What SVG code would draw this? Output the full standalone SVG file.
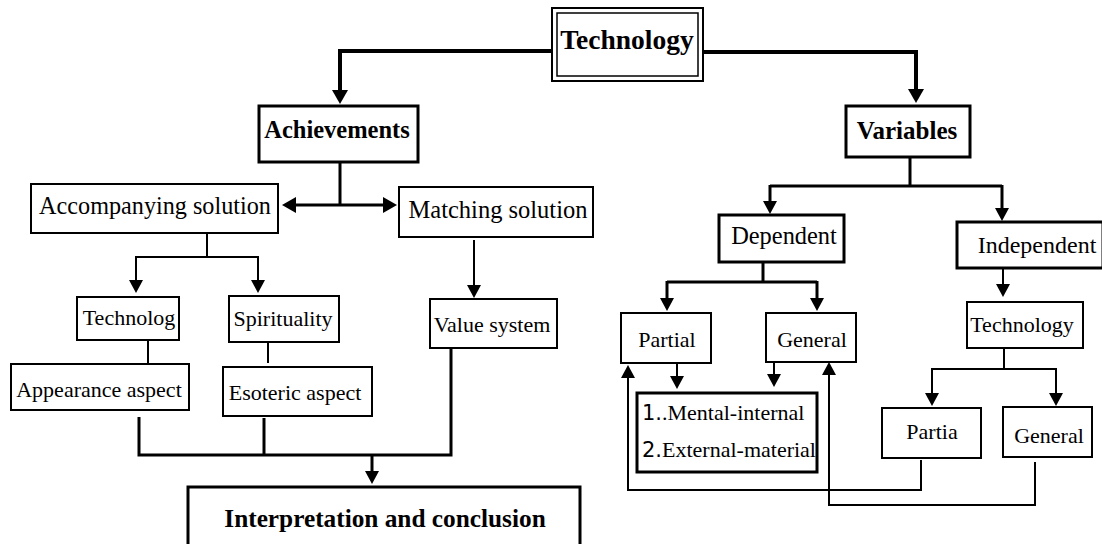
<svg xmlns="http://www.w3.org/2000/svg" width="1102" height="544" viewBox="0 0 1102 544">
  <style>
    .box { fill: #fff; stroke: #000; stroke-width: 2; }
    .boxb { fill: #fff; stroke: #000; stroke-width: 3; }
    .t { font-family: "Liberation Serif", "Times New Roman", serif; font-size: 22px; fill: #000; text-anchor: middle; }
    .tb { font-family: "Liberation Serif", "Times New Roman", serif; font-size: 24px; font-weight: bold; fill: #000; text-anchor: middle; }
    .num { font-family: "DejaVu Sans", "Liberation Sans", sans-serif; font-size: 21px; }
    .c4 { fill: none; stroke: #000; stroke-width: 4; }
    .c3 { fill: none; stroke: #000; stroke-width: 3; }
    .c2 { fill: none; stroke: #000; stroke-width: 2; }
  </style>
  <defs>
    <marker id="big" markerUnits="userSpaceOnUse" markerWidth="16" markerHeight="16" refX="0" refY="8" orient="auto" overflow="visible">
      <path d="M0,0 L14,8 L0,16 Z" fill="#000"/>
    </marker>
    <marker id="mid" markerUnits="userSpaceOnUse" markerWidth="14" markerHeight="16" refX="0" refY="8" orient="auto-start-reverse" overflow="visible">
      <path d="M0,0 L14,8 L0,16 Z" fill="#000"/>
    </marker>
    <marker id="sm" markerUnits="userSpaceOnUse" markerWidth="13" markerHeight="14" refX="0" refY="7" orient="auto" overflow="visible">
      <path d="M0,0 L13,7 L0,14 Z" fill="#000"/>
    </marker>
  </defs>

  <!-- connectors -->
  <g id="connectors">
    <!-- root to the two main branches -->
    <path class="c4" d="M552,51 H340 V90" marker-end="url(#big)"/>
    <path class="c4" d="M704,52 H916 V89" marker-end="url(#big)"/>

    <!-- Achievements to the two solutions -->
    <path class="c3" d="M340,162 V205"/>
    <path class="c3" d="M296,205 H383" marker-start="url(#mid)" marker-end="url(#mid)"/>

    <!-- Accompanying solution split -->
    <path class="c2" d="M207,233 V257"/>
    <path class="c2" d="M136,257 H258"/>
    <path class="c2" d="M136,256 V280" marker-end="url(#sm)"/>
    <path class="c2" d="M258,256 V280" marker-end="url(#sm)"/>

    <!-- Matching solution to Value system -->
    <path class="c2" d="M474,240 V285" marker-end="url(#sm)"/>

    <!-- plain links to aspects -->
    <path class="c2" d="M148,340 V364"/>
    <path class="c2" d="M268,342 V363"/>

    <!-- merge into the conclusion -->
    <path class="c3" d="M139,417 V455 H451 V348"/>
    <path class="c3" d="M264,418 V455"/>
    <path class="c3" d="M372,455 V471" marker-end="url(#sm)"/>

    <!-- Variables split -->
    <path class="c3" d="M910,157 V186"/>
    <path class="c3" d="M770,186 H1002"/>
    <path class="c3" d="M770,185 V201" marker-end="url(#sm)"/>
    <path class="c3" d="M1002,185 V208" marker-end="url(#sm)"/>

    <!-- Dependent split -->
    <path class="c3" d="M763,262 V282"/>
    <path class="c3" d="M667,282 H817"/>
    <path class="c3" d="M667,281 V298" marker-end="url(#sm)"/>
    <path class="c3" d="M817,281 V298" marker-end="url(#sm)"/>

    <!-- Partial / General to the list -->
    <path class="c2" d="M677,363 V376" marker-end="url(#sm)"/>
    <path class="c2" d="M774,362 V374" marker-end="url(#sm)"/>

    <!-- Independent to Technology -->
    <path class="c2" d="M1003,268 V284" marker-end="url(#sm)"/>

    <!-- Technology split -->
    <path class="c2" d="M1004,348 V369"/>
    <path class="c2" d="M932,369 H1056"/>
    <path class="c2" d="M932,368 V393" marker-end="url(#sm)"/>
    <path class="c2" d="M1056,368 V393" marker-end="url(#sm)"/>

    <!-- feedback loops -->
    <path class="c2" d="M921,460 V490 H628 V378" marker-end="url(#sm)"/>
    <path class="c2" d="M1035,462 V505 H829 V375" marker-end="url(#sm)"/>
  </g>

  <!-- nodes -->
  <g id="n-technology">
    <rect x="552" y="8" width="151" height="73" fill="#fff" stroke="#000" stroke-width="2"/>
    <rect x="557" y="13" width="141" height="63" fill="none" stroke="#000" stroke-width="1.5"/>
    <text class="tb" x="627" y="49" style="font-size:27.5px">Technology</text>
  </g>

  <g id="n-achievements">
    <rect class="boxb" x="259" y="106" width="159" height="56"/>
    <text class="tb" x="337" y="138" style="font-size:24.5px">Achievements</text>
  </g>

  <g id="n-variables">
    <rect class="boxb" x="846" y="106" width="124" height="51"/>
    <text class="tb" x="907" y="139" style="font-size:25px">Variables</text>
  </g>

  <g id="n-accompanying">
    <rect class="box" x="31" y="184" width="247" height="49"/>
    <text class="t" x="155" y="214" style="font-size:24.2px">Accompanying solution</text>
  </g>

  <g id="n-matching">
    <rect class="box" x="399" y="187" width="194" height="50"/>
    <text class="t" x="498" y="218" style="font-size:24.5px">Matching solution</text>
  </g>

  <g id="n-technolog">
    <rect class="box" x="77" y="297" width="102" height="43"/>
    <text class="t" x="129" y="325">Technolog</text>
  </g>

  <g id="n-spirituality">
    <rect class="box" x="229" y="296" width="110" height="46"/>
    <text class="t" x="283" y="326">Spirituality</text>
  </g>

  <g id="n-value">
    <rect class="box" x="430" y="299" width="127" height="49"/>
    <text class="t" x="492" y="332">Value system</text>
  </g>

  <g id="n-appearance">
    <rect class="box" x="11" y="364" width="178" height="46"/>
    <text class="t" x="99" y="397">Appearance aspect</text>
  </g>

  <g id="n-esoteric">
    <rect class="box" x="223" y="367" width="149" height="49"/>
    <text class="t" x="295" y="400">Esoteric aspect</text>
  </g>

  <g id="n-conclusion">
    <rect class="boxb" x="188" y="487" width="392" height="70"/>
    <text class="tb" x="385" y="527" style="font-size:25.3px">Interpretation and conclusion</text>
  </g>

  <g id="n-dependent">
    <rect class="boxb" x="719" y="215" width="125" height="47"/>
    <text class="t" x="784" y="244" style="font-size:24.4px">Dependent</text>
  </g>

  <g id="n-independent">
    <rect class="boxb" x="957" y="222" width="146" height="46"/>
    <text class="t" x="1037" y="253" style="font-size:24px">Independent</text>
  </g>

  <g id="n-partial">
    <rect class="box" x="621" y="313" width="90" height="50"/>
    <text class="t" x="667" y="347">Partial</text>
  </g>

  <g id="n-general-dep">
    <rect class="box" x="766" y="313" width="90" height="49"/>
    <text class="t" x="812" y="347">General</text>
  </g>

  <g id="n-list">
    <rect class="boxb" x="637" y="393" width="180" height="79"/>
    <text class="t" x="642" y="420" style="text-anchor:start"><tspan class="num">1.</tspan>.Mental-internal</text>
    <text class="t" x="642" y="457" style="text-anchor:start"><tspan class="num">2.</tspan>External-material</text>
  </g>

  <g id="n-technology-ind">
    <rect class="box" x="967" y="302" width="116" height="46"/>
    <text class="t" x="1022" y="332">Technology</text>
  </g>

  <g id="n-partia">
    <rect class="box" x="882" y="408" width="99" height="50"/>
    <text class="t" x="932" y="439">Partia</text>
  </g>

  <g id="n-general-ind">
    <rect class="box" x="1003" y="407" width="89" height="50"/>
    <text class="t" x="1049" y="443">General</text>
  </g>
</svg>
